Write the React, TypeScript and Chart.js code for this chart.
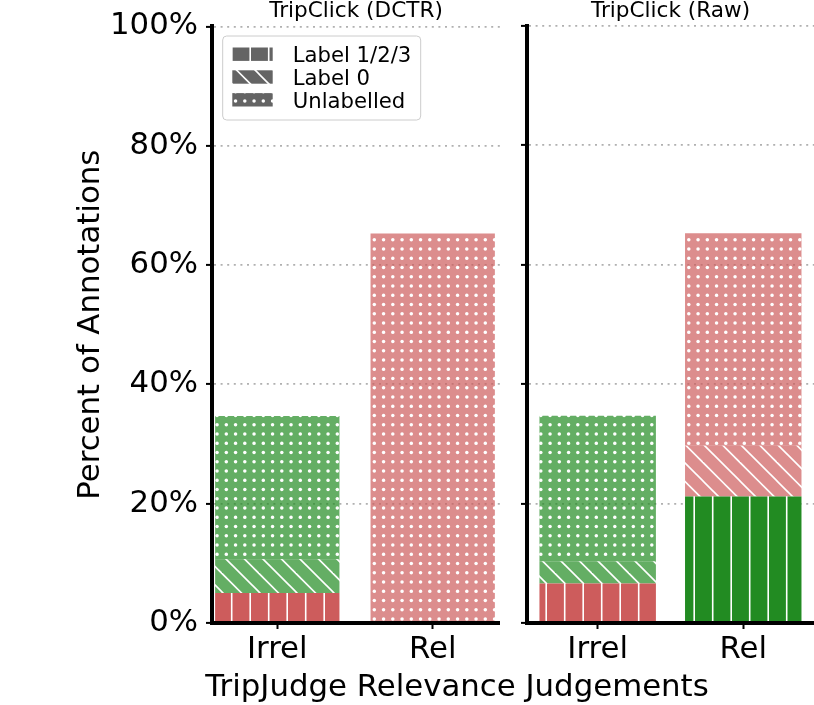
import { useEffect, useRef } from 'react';
import { Chart, registerables } from 'chart.js';

Chart.register(...registerables);

// ---- data (percent of all annotations) ----
const CATEGORIES = ['Irrel', 'Rel'];
const PANEL_TITLES = ['TripClick (DCTR)', 'TripClick (Raw)'];
const SERIES = ['Label 1/2/3', 'Label 0', 'Unlabelled'];
const Y_TICKS = [0, 20, 40, 60, 80, 100];

const DCTR_LABEL123 = [5.05, 0];
const DCTR_LABEL0 = [5.65, 0];
const DCTR_UNLABELLED = [24.0, 65.3];

const RAW_LABEL123 = [6.6, 21.2];
const RAW_LABEL0 = [3.7, 8.5];
const RAW_UNLABELLED = [24.4, 35.6];

const FONT = "'DejaVu Sans', sans-serif";
const BIG = 30.8;
const W = 814;
const H = 705;
const TILE = 37; // two hatch periods of 18.5px

const RED = 'rgb(205,92,92)';
const GREEN = 'rgb(34,139,34)';
const RED_A = 'rgba(205,92,92,0.7)';
const GREEN_A = 'rgba(34,139,34,0.7)';

function hatch(ctx, base, kind) {
  const c = document.createElement('canvas');
  c.width = TILE;
  c.height = TILE;
  const g = c.getContext('2d');
  g.fillStyle = base;
  g.fillRect(0, 0, TILE, TILE);
  g.strokeStyle = '#fff';
  g.fillStyle = '#fff';
  g.lineWidth = 1.6;
  if (kind === 'vline') {
    for (const x of [9.7, 28.2]) {
      g.beginPath();
      g.moveTo(x, 0);
      g.lineTo(x, TILE);
      g.stroke();
    }
  } else if (kind === 'diag') {
    for (let k = -3; k <= 3; k++) {
      const c0 = 18.5 * k;
      g.beginPath();
      g.moveTo(c0 - 5, -5);
      g.lineTo(c0 + TILE + 5, TILE + 5);
      g.stroke();
    }
  } else {
    for (let i = -1; i <= 4; i++) {
      for (let j = -1; j <= 4; j++) {
        g.beginPath();
        g.arc(4.3 + 9.25 * i, 8.6 + 9.25 * j, 1.75, 0, Math.PI * 2);
        g.fill();
      }
    }
  }
  return ctx.createPattern(c, 'repeat');
}

const decor = {
  id: 'decor',
  afterDatasetsDraw(chart, _args, opts) {
    const { ctx, chartArea } = chart;
    ctx.save();
    // bottom spine on top of the bars
    ctx.strokeStyle = '#000';
    ctx.lineWidth = 4;
    ctx.beginPath();
    ctx.moveTo(chartArea.left - 2, chartArea.bottom);
    ctx.lineTo(chartArea.right, chartArea.bottom);
    ctx.stroke();

    ctx.fillStyle = '#000';
    ctx.font = `21.6px ${FONT}`;
    ctx.textAlign = 'center';
    ctx.textBaseline = 'alphabetic';
    ctx.fillText(opts.title, (chartArea.left + chartArea.right) / 2, 16.5);

    if (opts.legend) {
      ctx.beginPath();
      ctx.roundRect(222.7, 36, 198, 84, 4);
      ctx.fillStyle = 'rgba(255,255,255,0.8)';
      ctx.fill();
      ctx.strokeStyle = '#cccccc';
      ctx.lineWidth = 1;
      ctx.stroke();
      const kinds = ['vline', 'diag', 'dots'];
      SERIES.forEach((name, i) => {
        const cy = 54.2 + 22.8 * i;
        ctx.fillStyle = hatch(ctx, '#646464', kinds[i]);
        ctx.fillRect(232.3, cy - 6.7, 40.4, 13.4);
        ctx.fillStyle = '#000';
        ctx.font = `21.2px ${FONT}`;
        ctx.textAlign = 'left';
        ctx.fillText(name, 292.7, cy + 7.8);
      });
    }

    if (opts.xTitle) {
      ctx.fillStyle = '#000';
      ctx.font = `${BIG}px ${FONT}`;
      ctx.textAlign = 'center';
      ctx.fillText(opts.xTitle, 457, 696);
    }
    ctx.restore();
  },
};

function makePanel(canvas, idx, label123, label0, unlabelled) {
  const left = idx === 0;
  const ctx = canvas.getContext('2d');
  const pts = (vals) => vals.map((y, x) => ({ x, y }));
  const datasets = [
    { label: SERIES[0], data: pts(label123), backgroundColor: [hatch(ctx, RED, 'vline'), hatch(ctx, GREEN, 'vline')] },
    { label: SERIES[1], data: pts(label0), backgroundColor: [hatch(ctx, GREEN_A, 'diag'), hatch(ctx, RED_A, 'diag')] },
    { label: SERIES[2], data: pts(unlabelled), backgroundColor: [hatch(ctx, GREEN_A, 'dots'), hatch(ctx, RED_A, 'dots')] },
  ];

  return new Chart(ctx, {
    type: 'bar',
    data: { datasets },
    plugins: [decor],
    options: {
      responsive: false,
      animation: false,
      devicePixelRatio: 1,
      layout: { padding: { top: 26, right: left ? 314 : 0, bottom: 0, left: 0 } },
      datasets: { bar: { categoryPercentage: 1, barPercentage: 0.8, borderWidth: 0 } },
      scales: {
        x: {
          type: 'linear',
          min: left ? -0.42 : -0.4856,
          max: left ? 1.433 : 1.486,
          offset: false,
          stacked: true,
          afterBuildTicks: (s) => {
            s.ticks = [{ value: 0 }, { value: 1 }];
          },
          afterFit: (s) => {
            s.height = 82;
          },
          grid: { drawOnChartArea: false, drawTicks: true, tickLength: 6, tickWidth: 2, tickColor: '#000', offset: false },
          border: { display: false },
          ticks: {
            font: { family: FONT, size: BIG },
            color: '#000',
            padding: 3,
            maxRotation: 0,
            autoSkip: false,
            callback: (v) => CATEGORIES[v] ?? '',
          },
        },
        y: {
          type: 'linear',
          min: 0,
          max: 100,
          stacked: true,
          afterBuildTicks: (s) => {
            s.ticks = Y_TICKS.map((value) => ({ value }));
          },
          afterFit: (s) => {
            s.width = left ? 212 : 527;
          },
          grid: { color: '#b0b0b0', lineWidth: 1.8, drawTicks: true, tickLength: 6, tickWidth: 2, tickColor: '#000' },
          border: { display: true, color: '#000', width: 4, dash: [2, 4.6] },
          ticks: {
            display: left,
            font: { family: FONT, size: BIG },
            color: '#000',
            padding: 8,
            callback: (v) => `${v}%`,
          },
          title: {
            display: left,
            text: 'Percent of Annotations',
            font: { family: FONT, size: BIG },
            color: '#000',
            padding: { top: 73, bottom: 0 },
          },
        },
      },
      plugins: {
        legend: { display: false },
        tooltip: { enabled: false },
        decor: {
          title: PANEL_TITLES[idx],
          legend: left,
          xTitle: left ? null : 'TripJudge Relevance Judgements',
        },
      },
    },
  });
}

export default function App() {
  const leftRef = useRef(null);
  const rightRef = useRef(null);

  useEffect(() => {
    if (!leftRef.current || !rightRef.current) return;
    const a = makePanel(leftRef.current, 0, DCTR_LABEL123, DCTR_LABEL0, DCTR_UNLABELLED);
    const b = makePanel(rightRef.current, 1, RAW_LABEL123, RAW_LABEL0, RAW_UNLABELLED);
    return () => {
      a.destroy();
      b.destroy();
    };
  }, []);

  const canvasStyle = { position: 'absolute', left: 0, top: 0, width: W, height: H } as const;
  return (
    <div style={{ position: 'absolute', left: 0, top: 0, width: W, height: H, background: '#fff' }}>
      <canvas ref={leftRef} width={W} height={H} style={canvasStyle} />
      <canvas ref={rightRef} width={W} height={H} style={canvasStyle} />
    </div>
  );
}
